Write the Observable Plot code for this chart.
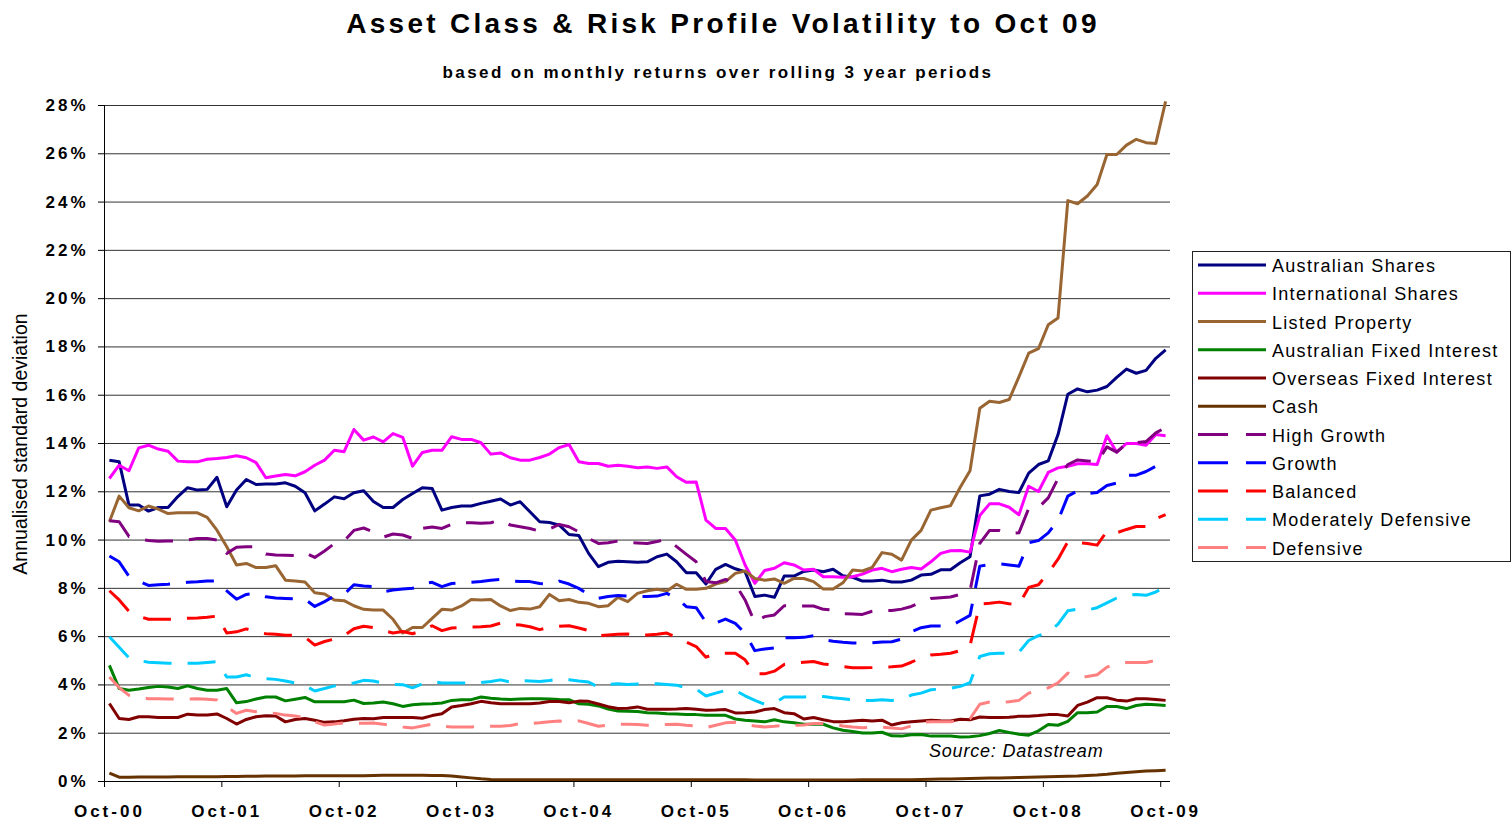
<!DOCTYPE html>
<html><head><meta charset="utf-8">
<script src="https://cdn.jsdelivr.net/npm/d3@7"></script>
<script src="https://cdn.jsdelivr.net/npm/@observablehq/plot@0.6"></script>
<style>
html,body{margin:0;padding:0;background:#fff;}
#wrap{position:relative;width:1512px;height:821px;overflow:hidden;font-family:"Liberation Sans",Arial,sans-serif;}
#wrap > svg{position:absolute;left:0;top:0;}
</style></head><body><div id="wrap"></div>
<script>
// ---------- DATA (monthly, Oct-00 .. Oct-09, annualised std dev in %) ----------
const xLabels = ["Oct-00","Oct-01","Oct-02","Oct-03","Oct-04","Oct-05","Oct-06","Oct-07","Oct-08","Oct-09"];
const yTicks = [0,2,4,6,8,10,12,14,16,18,20,22,24,26,28];

const seriesNames = ["Australian Shares","International Shares","Listed Property","Australian Fixed Interest","Overseas Fixed Interest","Cash","High Growth","Growth","Balanced","Moderately Defensive","Defensive"];
const seriesColors = ["#000080","#FF00FF","#996633","#008000","#800000","#663300","#800080","#0000FF","#FF0000","#00CCFF","#FF8080"];
const seriesDashed = [false,false,false,false,false,false,true,true,true,true,true];

const australianShares = [13.31,13.24,11.45,11.45,11.2,11.35,11.35,11.8,12.17,12.07,12.1,12.6,11.38,12.07,12.51,12.3,12.32,12.32,12.37,12.23,11.96,11.21,11.49,11.79,11.71,11.96,12.04,11.6,11.35,11.35,11.68,11.93,12.17,12.14,11.24,11.35,11.41,11.41,11.52,11.61,11.7,11.45,11.59,11.17,10.76,10.73,10.62,10.23,10.19,9.45,8.9,9.08,9.12,9.1,9.08,9.1,9.31,9.42,9.1,8.65,8.65,8.18,8.79,8.99,8.81,8.69,7.66,7.72,7.63,8.51,8.51,8.7,8.76,8.69,8.79,8.52,8.46,8.3,8.3,8.34,8.26,8.26,8.34,8.55,8.58,8.77,8.77,9.06,9.31,11.83,11.9,12.1,12.01,11.97,12.77,13.13,13.28,14.37,16.04,16.26,16.14,16.21,16.36,16.74,17.08,16.91,17.03,17.53,17.88];
const internationalShares = [12.55,13.1,12.87,13.82,13.93,13.77,13.68,13.27,13.24,13.24,13.35,13.38,13.42,13.49,13.41,13.21,12.58,12.65,12.72,12.66,12.83,13.1,13.31,13.72,13.66,14.58,14.14,14.27,14.07,14.41,14.25,13.06,13.63,13.72,13.72,14.28,14.17,14.17,14.03,13.56,13.61,13.41,13.31,13.31,13.42,13.56,13.83,13.96,13.24,13.17,13.17,13.06,13.1,13.06,13.0,13.03,12.97,13.03,12.62,12.39,12.41,10.83,10.48,10.48,10.0,8.97,8.21,8.74,8.83,9.06,8.97,8.76,8.79,8.48,8.48,8.46,8.48,8.59,8.76,8.83,8.69,8.79,8.86,8.8,9.1,9.45,9.56,9.57,9.5,11.02,11.5,11.5,11.36,11.05,12.23,12.01,12.8,12.99,13.06,13.16,13.16,13.13,14.32,13.64,14.0,14.0,13.93,14.37,14.32];
const listedProperty = [10.76,11.82,11.34,11.21,11.41,11.28,11.1,11.13,11.13,11.13,10.94,10.41,9.72,8.97,9.03,8.86,8.86,8.94,8.34,8.3,8.26,7.82,7.77,7.52,7.49,7.28,7.13,7.1,7.1,6.72,6.15,6.38,6.38,6.76,7.13,7.1,7.27,7.54,7.52,7.54,7.27,7.08,7.17,7.14,7.24,7.75,7.49,7.54,7.42,7.38,7.24,7.28,7.63,7.45,7.79,7.9,7.96,7.89,8.17,7.96,7.96,8.0,8.18,8.28,8.62,8.72,8.41,8.34,8.39,8.21,8.41,8.41,8.28,7.97,7.97,8.23,8.76,8.72,8.87,9.48,9.41,9.17,10.0,10.4,11.24,11.34,11.42,12.19,12.87,15.46,15.75,15.7,15.82,16.76,17.74,17.93,18.92,19.2,24.06,23.93,24.25,24.73,25.97,25.97,26.36,26.6,26.46,26.43,28.17];
const australianFixedInterest = [4.81,3.85,3.78,3.83,3.89,3.94,3.91,3.85,3.96,3.85,3.78,3.78,3.85,3.26,3.31,3.42,3.5,3.5,3.34,3.41,3.48,3.3,3.3,3.3,3.3,3.37,3.23,3.25,3.29,3.22,3.11,3.18,3.21,3.22,3.25,3.36,3.39,3.39,3.5,3.45,3.42,3.4,3.42,3.43,3.43,3.42,3.4,3.39,3.22,3.2,3.13,3.0,2.92,2.91,2.9,2.85,2.84,2.81,2.8,2.78,2.77,2.74,2.74,2.74,2.59,2.54,2.51,2.47,2.56,2.47,2.43,2.37,2.37,2.37,2.22,2.12,2.07,2.01,2.01,2.04,1.89,1.88,1.94,1.95,1.88,1.88,1.88,1.84,1.85,1.9,1.99,2.11,2.03,1.96,1.92,2.1,2.36,2.33,2.49,2.85,2.85,2.88,3.11,3.11,3.02,3.15,3.2,3.18,3.15];
const overseasFixedInterest = [3.23,2.61,2.57,2.68,2.68,2.65,2.65,2.65,2.79,2.75,2.75,2.8,2.61,2.38,2.57,2.68,2.72,2.71,2.47,2.57,2.61,2.54,2.45,2.47,2.52,2.58,2.61,2.6,2.65,2.65,2.65,2.65,2.62,2.73,2.81,3.09,3.15,3.22,3.32,3.26,3.22,3.22,3.22,3.22,3.25,3.31,3.31,3.26,3.33,3.32,3.21,3.1,3.02,3.03,3.09,2.99,2.99,2.99,3.0,3.02,2.99,2.95,2.96,2.98,2.84,2.85,2.88,2.98,3.02,2.85,2.81,2.59,2.65,2.56,2.48,2.47,2.51,2.54,2.51,2.54,2.34,2.43,2.47,2.51,2.54,2.52,2.51,2.58,2.56,2.67,2.65,2.65,2.66,2.7,2.7,2.73,2.77,2.77,2.71,3.15,3.29,3.47,3.47,3.37,3.33,3.43,3.43,3.4,3.36];
const cash = [0.35,0.18,0.18,0.19,0.19,0.19,0.19,0.2,0.2,0.2,0.2,0.2,0.21,0.21,0.22,0.22,0.23,0.23,0.23,0.23,0.24,0.24,0.24,0.24,0.24,0.24,0.24,0.25,0.26,0.26,0.26,0.26,0.26,0.25,0.25,0.23,0.19,0.15,0.11,0.08,0.07,0.07,0.07,0.07,0.07,0.07,0.07,0.07,0.07,0.07,0.07,0.07,0.07,0.07,0.07,0.07,0.07,0.07,0.07,0.07,0.07,0.07,0.07,0.07,0.07,0.07,0.06,0.06,0.06,0.06,0.06,0.06,0.06,0.06,0.06,0.06,0.06,0.07,0.07,0.07,0.07,0.07,0.07,0.08,0.09,0.1,0.1,0.11,0.12,0.13,0.14,0.15,0.16,0.17,0.18,0.19,0.2,0.21,0.22,0.23,0.25,0.27,0.3,0.34,0.37,0.4,0.43,0.45,0.47];
const highGrowth = [10.8,10.76,10.15,10.05,9.98,9.95,9.96,9.96,10.0,10.07,10.07,10.0,9.45,9.7,9.72,9.72,9.42,9.38,9.37,9.36,9.48,9.28,9.55,9.85,9.96,10.4,10.5,10.34,10.12,10.25,10.21,10.07,10.48,10.54,10.48,10.66,10.72,10.72,10.7,10.72,10.83,10.62,10.55,10.48,10.37,10.46,10.65,10.55,10.34,10.07,9.86,9.89,9.96,9.9,9.88,9.86,9.94,10.03,9.73,9.41,9.1,8.28,8.23,8.37,8.18,7.52,6.58,6.83,6.9,7.28,7.28,7.27,7.27,7.13,7.1,6.95,6.94,6.92,7.05,7.08,7.08,7.14,7.25,7.43,7.58,7.61,7.64,7.75,7.9,9.86,10.4,10.4,10.27,10.3,11.31,11.34,11.75,12.55,13.13,13.32,13.28,13.23,13.86,13.64,14.0,14.03,14.08,14.44,14.66];
const growth = [9.34,9.1,8.5,8.3,8.12,8.15,8.17,8.2,8.25,8.27,8.3,8.3,7.9,7.55,7.75,7.8,7.65,7.6,7.58,7.56,7.55,7.25,7.45,7.68,7.75,8.15,8.1,8.07,7.86,7.93,7.97,8.0,8.21,8.25,8.07,8.2,8.23,8.25,8.28,8.34,8.37,8.3,8.28,8.28,8.2,8.18,8.3,8.18,8.0,7.75,7.59,7.66,7.7,7.68,7.67,7.66,7.68,7.79,7.59,7.24,7.2,6.6,6.56,6.73,6.55,6.14,5.42,5.49,5.53,5.95,5.95,5.97,6.04,5.88,5.81,5.77,5.74,5.73,5.75,5.78,5.79,5.9,6.2,6.37,6.44,6.44,6.44,6.66,6.88,8.92,8.99,9.02,8.97,8.92,9.89,9.98,10.3,10.81,11.82,12.04,11.92,11.97,12.26,12.36,12.69,12.69,12.84,13.06,13.38];
const balanced = [7.9,7.52,7.05,6.85,6.72,6.72,6.72,6.73,6.76,6.77,6.8,6.85,6.15,6.2,6.32,6.2,6.12,6.1,6.06,6.05,5.98,5.65,5.8,5.9,6.04,6.33,6.43,6.38,6.25,6.15,6.21,6.12,6.25,6.45,6.25,6.36,6.38,6.4,6.41,6.44,6.56,6.52,6.48,6.41,6.29,6.38,6.43,6.45,6.36,6.25,6.04,6.07,6.1,6.11,6.06,6.07,6.1,6.15,5.97,5.77,5.59,5.15,5.29,5.31,5.31,5.04,4.46,4.46,4.57,4.85,4.91,4.94,4.97,4.87,4.82,4.76,4.71,4.71,4.72,4.74,4.75,4.78,4.94,5.12,5.24,5.27,5.31,5.42,5.63,7.35,7.38,7.43,7.36,7.32,8.04,8.15,8.63,9.21,9.93,9.89,9.86,9.79,10.37,10.3,10.44,10.56,10.56,10.88,11.05];
const moderatelyDefensive = [6.0,5.56,5.12,5.01,4.94,4.92,4.9,4.9,4.9,4.9,4.93,4.96,4.33,4.33,4.42,4.3,4.26,4.23,4.16,4.08,3.97,3.75,3.85,3.96,4.02,4.08,4.19,4.16,4.08,4.02,4.01,3.88,4.05,4.14,4.08,4.08,4.08,4.08,4.1,4.14,4.21,4.12,4.18,4.16,4.14,4.18,4.25,4.21,4.16,4.12,3.91,4.02,4.05,4.02,4.04,4.05,4.05,4.02,3.99,3.87,3.83,3.54,3.66,3.77,3.77,3.55,3.36,3.2,3.25,3.5,3.5,3.5,3.55,3.52,3.47,3.43,3.39,3.36,3.36,3.39,3.36,3.39,3.58,3.66,3.8,3.83,3.86,3.94,4.09,5.18,5.29,5.31,5.31,5.35,5.84,6.04,6.18,6.52,7.07,7.14,7.1,7.2,7.4,7.6,7.72,7.75,7.71,7.85,8.08];
const defensive = [4.33,3.89,3.57,3.48,3.43,3.43,3.42,3.41,3.42,3.43,3.41,3.38,3.1,2.82,2.95,2.89,2.84,2.82,2.75,2.71,2.65,2.47,2.34,2.38,2.43,2.41,2.41,2.42,2.37,2.32,2.26,2.22,2.3,2.37,2.29,2.26,2.26,2.26,2.27,2.29,2.29,2.32,2.4,2.4,2.43,2.47,2.51,2.47,2.51,2.4,2.29,2.33,2.37,2.37,2.36,2.33,2.34,2.36,2.37,2.33,2.3,2.23,2.33,2.43,2.45,2.37,2.3,2.26,2.29,2.33,2.33,2.34,2.4,2.4,2.38,2.3,2.26,2.23,2.25,2.25,2.22,2.18,2.3,2.45,2.47,2.47,2.47,2.54,2.6,3.2,3.29,3.29,3.3,3.36,3.66,3.77,3.88,4.09,4.49,4.32,4.35,4.42,4.74,4.87,4.93,4.93,4.93,5.02,5.12];

const seriesValues = [australianShares,internationalShares,listedProperty,australianFixedInterest,overseasFixedInterest,cash,highGrowth,growth,balanced,moderatelyDefensive,defensive];

// ---------- BUILD ----------
const table = seriesNames.flatMap((name, s) => seriesValues[s].map((v, i) => ({name, i, v})));
const labelPos = xLabels.map((_, k) => k * 12);
const tickPos = xLabels.map((_, k) => k * 12 - 0.5);
const DASH = "28,16";

const lineMarks = seriesNames.map((name, s) =>
  Plot.line(table.filter(d => d.name === name), {
    x: "i", y: "v", stroke: seriesColors[s], strokeWidth: 3,
    strokeDasharray: seriesDashed[s] ? DASH : null,
    strokeLinejoin: "round", strokeLinecap: "butt"
  }));

const chart = Plot.plot({
  width: 1512, height: 821,
  marginLeft: 104, marginRight: 342, marginTop: 105, marginBottom: 40,
  x: {domain: [-0.5, 108.5], label: null},
  y: {domain: [0, 28], label: null},
  style: {fontFamily: '"Liberation Sans", Arial, sans-serif', fontSize: "17px", fontWeight: "bold", background: "transparent", letterSpacing: "3px", color: "#000"},
  marks: [
    Plot.ruleY(yTicks.filter(d => d > 0), {stroke: "#333", strokeWidth: 1}),
    ...lineMarks,
    Plot.ruleX([-0.5], {stroke: "#000", strokeWidth: 1}),
    Plot.ruleY([0], {stroke: "#000", strokeWidth: 1}),
    Plot.axisY(yTicks, {tickSize: 6, tickPadding: 10, tickFormat: d => d + "%", label: null}),
    Plot.axisX(tickPos, {tickSize: 6, tickFormat: () => "", label: null}),
    Plot.axisX(labelPos, {tickSize: 0, tickPadding: 23, tickFormat: d => xLabels[Math.round(d / 12)], label: null})
  ]
});
const wrap = document.getElementById("wrap");
wrap.appendChild(chart);

// ---------- TEXT & LEGEND OVERLAY ----------
const ov = d3.create("svg").attr("width", 1512).attr("height", 821)
  .style("font-family", '"Liberation Sans", Arial, sans-serif');
ov.append("text").attr("x", 723).attr("y", 33).attr("text-anchor", "middle")
  .attr("font-size", 28).attr("font-weight", "bold").attr("letter-spacing", "3.3px")
  .text("Asset Class & Risk Profile Volatility to Oct 09");
ov.append("text").attr("x", 718).attr("y", 78).attr("text-anchor", "middle")
  .attr("font-size", 17).attr("font-weight", "bold").attr("letter-spacing", "2.4px")
  .text("based on monthly returns over rolling 3 year periods");
ov.append("text").attr("transform", "translate(27,444) rotate(-90)").attr("text-anchor", "middle")
  .attr("font-size", 19.5).text("Annualised standard deviation");
ov.append("text").attr("x", 929).attr("y", 757).attr("font-size", 18).attr("font-style", "italic")
  .attr("letter-spacing", "0.8px").text("Source: Datastream");

const lg = ov.append("g");
lg.append("rect").attr("x", 1192.5).attr("y", 251.5).attr("width", 318).attr("height", 310)
  .attr("fill", "white").attr("stroke", "#222").attr("stroke-width", 1);
seriesNames.forEach((name, s) => {
  const cy = 265 + s * 28.25;
  lg.append("line").attr("x1", 1198).attr("x2", 1266).attr("y1", cy).attr("y2", cy)
    .attr("stroke", seriesColors[s]).attr("stroke-width", 3)
    .attr("stroke-dasharray", seriesDashed[s] ? "30,18" : null);
  lg.append("text").attr("x", 1272).attr("y", cy + 7).attr("font-size", 18)
    .attr("letter-spacing", "1.3px").text(name);
});
wrap.appendChild(ov.node());
</script></body></html>
